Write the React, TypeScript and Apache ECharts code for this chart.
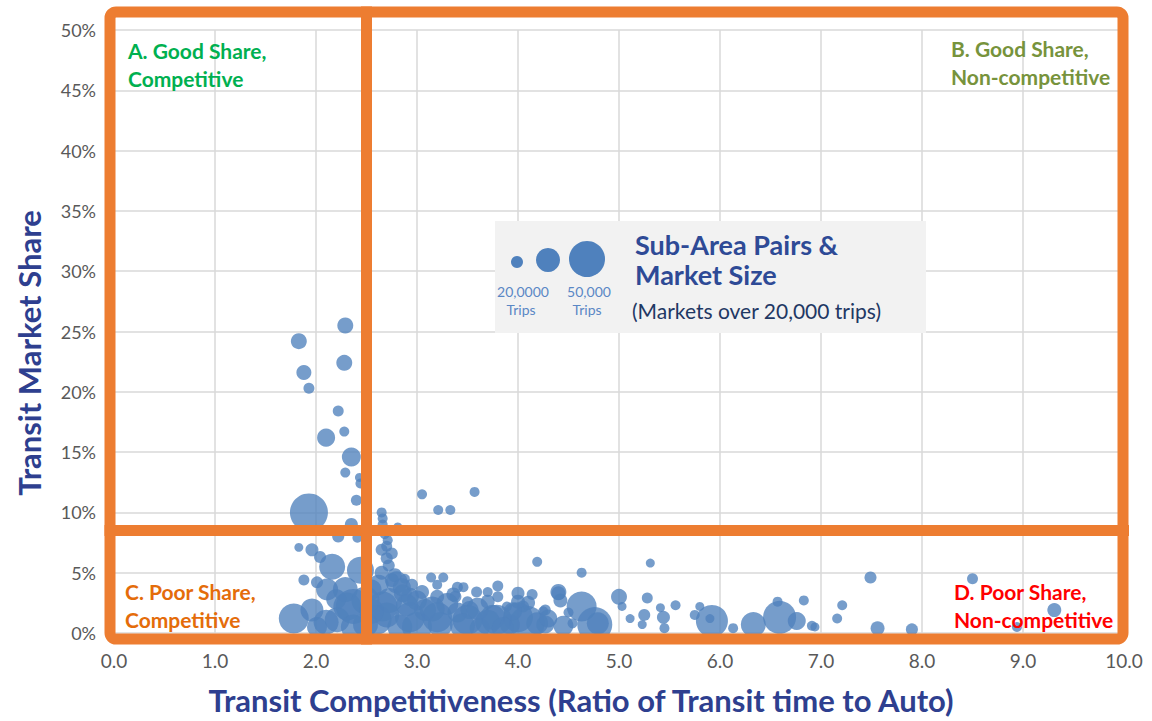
import React, { useEffect, useRef } from "react";
import * as echarts from "echarts";

// Transit competitiveness ratio, transit market share (%), market size (thousand trips)
const ratios: number[] = [
  2.29, 1.83, 2.28, 1.88, 1.93, 2.22, 2.28, 2.10, 2.35, 2.29, 2.43, 2.44, 2.40, 1.93, 2.35, 2.22, 2.41, 1.83, 1.96, 2.04,
  2.16, 2.44, 1.88, 2.01, 1.78, 1.96, 2.11, 2.29, 2.37, 2.21, 2.31, 2.01, 2.37,
  2.65, 2.66, 2.66, 2.81, 3.05, 3.21, 3.33, 3.57, 2.71, 2.65, 2.70, 2.65, 2.80, 2.88, 3.14, 3.26, 3.20, 3.46, 3.59, 3.70,
  3.80, 4.00, 4.14, 4.19, 4.40, 4.42, 4.63, 4.63, 4.76, 4.79, 5.31, 5.00, 5.28, 5.03, 5.56, 5.41, 5.11, 5.25, 5.44, 5.23,
  5.45, 5.80, 5.75, 5.92, 5.90, 6.13, 6.33, 6.59, 6.57, 6.76, 6.83, 6.91, 6.94, 7.21, 7.16, 7.49, 7.56, 7.90, 8.50, 9.31,
  8.94, 4.25, 4.50, 4.54, 4.00, 3.75, 4.19, 4.40, 4.27,
  2.93, 3.20, 3.38, 3.50, 3.80, 3.89, 4.05, 3.79, 3.50, 4.09, 2.86, 3.00, 2.93, 3.36, 3.20, 3.40, 2.66, 2.60, 2.75, 2.73,
  3.23, 3.62, 2.83, 3.52, 3.92, 4.27, 3.08, 2.49, 2.49, 2.55,
  2.68, 2.70, 2.75, 2.72, 2.78, 2.85, 2.62, 2.95,
  3.00, 3.30, 3.60, 3.70, 3.95, 4.10, 2.90, 3.15, 3.45, 2.70, 3.85, 4.30, 4.45, 2.55, 3.05, 3.40, 3.70, 4.00,
  2.10, 2.20,
];
const shares: number[] = [
  25.5, 24.2, 22.4, 21.6, 20.3, 18.4, 16.7, 16.2, 14.6, 13.3, 12.9, 12.4, 11.0, 10.0, 9.0, 8.0, 7.9, 7.1, 6.9, 6.3,
  5.5, 5.2, 4.4, 4.2, 1.2, 1.9, 3.6, 3.6, 2.2, 1.1, 2.2, 0.5, 0.5,
  10.0, 9.5, 9.0, 8.8, 11.5, 10.2, 10.2, 11.7, 7.7, 6.9, 6.2, 5.0, 4.2, 4.5, 4.6, 4.6, 4.0, 3.8, 3.4, 3.4,
  3.9, 3.3, 3.2, 5.9, 3.3, 2.7, 5.0, 2.2, 0.7, 0.8, 5.8, 3.0, 2.9, 2.2, 2.3, 2.1, 1.2, 1.5, 1.3, 0.7,
  0.4, 2.2, 1.5, 1.0, 1.2, 0.4, 0.7, 1.3, 2.6, 1.0, 2.7, 0.6, 0.5, 2.3, 1.2, 4.6, 0.4, 0.3, 4.5, 1.9,
  0.5, 1.8, 1.7, 0.8, 1.3, 1.3, 0.8, 3.4, 1.9,
  3.0, 3.0, 3.0, 2.6, 3.0, 2.2, 2.2, 1.1, 1.1, 0.8, 3.3, 2.7, 1.3, 3.2, 1.3, 1.7, 2.2, 1.1, 4.4, 2.7,
  0.7, 0.4, 0.5, 1.9, 0.7, 0.7, 1.9, 2.7, 0.7, 3.6,
  8.2, 7.2, 6.6, 5.6, 4.8, 3.8, 4.0, 4.0,
  0.5, 2.4, 2.0, 0.9, 1.8, 2.5, 2.3, 2.0, 0.6, 1.5, 0.4, 1.2, 0.6, 1.8, 3.4, 3.8, 2.6, 2.6,
  0.9, 2.8,
];
const tripsK: number[] = [
  51, 51, 51, 45, 24, 24, 20, 65, 72, 20, 16, 20, 24, 289, 34, 29, 20, 16, 34, 29,
  135, 146, 24, 29, 180, 106, 97, 125, 245, 125, 157, 80, 125,
  20, 20, 20, 16, 20, 20, 20, 20, 20, 29, 29, 39, 97, 20, 20, 20, 20, 20, 24, 20,
  24, 34, 24, 20, 39, 39, 20, 180, 245, 97, 16, 51, 24, 16, 20, 16, 16, 29, 34, 16,
  20, 16, 20, 205, 16, 20, 125, 218, 20, 65, 20, 20, 16, 20, 20, 29, 39, 29, 24, 39,
  20, 20, 20, 20, 180, 125, 97, 51, 24,
  65, 39, 29, 24, 24, 20, 29, 180, 180, 245, 65, 80, 180, 39, 180, 80, 180, 180, 39, 125,
  125, 80, 125, 65, 80, 65, 97, 157, 125, 80,
  20, 24, 29, 29, 39, 65, 80, 29,
  180, 97, 97, 125, 65, 39, 97, 125, 125, 125, 97, 65, 80, 125, 39, 24, 39, 39,
  125, 80,
];

const xTicks: string[] = ["0.0", "1.0", "2.0", "3.0", "4.0", "5.0", "6.0", "7.0", "8.0", "9.0", "10.0"];
const xTitle = "Transit Competitiveness (Ratio of Transit time to Auto)";
const yTitle = "Transit Market Share";
const competitiveCut = 2.5; // ratio threshold
const shareCut = 8.5; // % threshold

const quadrantA: string[] = ["A. Good Share,", "Competitive"];
const quadrantB: string[] = ["B. Good Share,", "Non-competitive"];
const quadrantC: string[] = ["C. Poor Share,", "Competitive"];
const quadrantD: string[] = ["D. Poor Share,", "Non-competitive"];
const legendTitle: string[] = ["Sub-Area Pairs &", "Market Size"];
const legendSub = "(Markets over 20,000 trips)";
const legendSizes: string[] = ["20,0000", "50,000"];

const FONT = "Lato, 'Open Sans', sans-serif";
const G = { left: 114, top: 30, width: 1010, height: 603 };
const px = (x: number) => G.left + (x / 10) * G.width;
const py = (y: number) => G.top + ((50 - y) / 50) * G.height;

export default function App() {
  const ref = useRef<HTMLDivElement>(null);
  useEffect(() => {
    if (!ref.current) return;
    const chart = echarts.init(ref.current, undefined, { renderer: "svg" });
    const data = ratios.map((r, i) => [r, shares[i], tripsK[i]]);
    const orange = "#ED7D31";
    const lw = 11;
    const xC = px(competitiveCut);
    const yC = py(shareCut);
    const frameL = G.left - 4;
    const frameR = G.left + G.width - 1;
    const frameT = 12;
    const frameB = G.top + G.height + 6;

    const qText = (lines: string[], x: number, y: number, color: string) => ({
      type: "group",
      z: 60,
      children: lines.map((t, i) => ({
        type: "text",
        z: 60,
        x,
        y: y + i * 28,
        style: {
          text: t,
          fill: color,
          font: `bold 21px ${FONT}`,
          textVerticalAlign: "middle",
        },
      })),
    });

    const option: any = {
      animation: false,
      textStyle: { fontFamily: FONT },
      grid: { left: G.left, top: G.top, width: G.width, height: G.height, containLabel: false },
      xAxis: {
        type: "value",
        min: 0,
        max: 10,
        interval: 1,
        axisLine: { show: false },
        axisTick: { show: false },
        axisLabel: {
          color: "#595959",
          fontSize: 19,
          margin: 18,
          formatter: (v: number) => xTicks[Math.round(v)] ?? "",
        },
        splitLine: { show: true, lineStyle: { color: "#D9D9D9", width: 1.5 } },
      },
      yAxis: {
        type: "value",
        min: 0,
        max: 50,
        interval: 5,
        axisLine: { show: false },
        axisTick: { show: false },
        axisLabel: { color: "#595959", fontSize: 18, margin: 18, formatter: "{value}%" },
        splitLine: { show: true, lineStyle: { color: "#D9D9D9", width: 1.5 } },
      },
      series: [
        {
          type: "scatter",
          data,
          symbolSize: (v: number[]) => 2.236 * Math.sqrt(v[2]),
          itemStyle: { color: "#4F81BD", opacity: 0.78 },
          z: 2,
        },
      ],
      graphic: [
        // axis titles
        {
          type: "text", z: 30, x: 581, y: 700,
          style: { text: xTitle, fill: "#2E3F8F", font: `bold 31px ${FONT}`, textAlign: "center", textVerticalAlign: "middle" },
        },
        {
          type: "text", z: 30, x: 29, y: 353, rotation: Math.PI / 2,
          style: { text: yTitle, fill: "#2E3F8F", font: `bold 31px ${FONT}`, textAlign: "center", textVerticalAlign: "middle" },
        },
        // legend box
        {
          type: "rect",
          z: 40,
          shape: { x: 495, y: 221, width: 431, height: 112 },
          style: { fill: "#F2F2F2" },
        },
        { type: "circle", z: 41, shape: { cx: 517, cy: 262, r: 6 }, style: { fill: "#4F81BD" } },
        { type: "circle", z: 41, shape: { cx: 548, cy: 260, r: 12 }, style: { fill: "#4F81BD" } },
        { type: "circle", z: 41, shape: { cx: 587, cy: 259, r: 18 }, style: { fill: "#4F81BD" } },
        {
          type: "text", z: 41, x: 523, y: 291,
          style: { text: legendSizes[0], fill: "#5A87C5", font: `14px ${FONT}`, textAlign: "center", textVerticalAlign: "middle" },
        },
        {
          type: "text", z: 41, x: 521, y: 309,
          style: { text: "Trips", fill: "#5A87C5", font: `14px ${FONT}`, textAlign: "center", textVerticalAlign: "middle" },
        },
        {
          type: "text", z: 41, x: 589, y: 291,
          style: { text: legendSizes[1], fill: "#5A87C5", font: `14px ${FONT}`, textAlign: "center", textVerticalAlign: "middle" },
        },
        {
          type: "text", z: 41, x: 587, y: 309,
          style: { text: "Trips", fill: "#5A87C5", font: `14px ${FONT}`, textAlign: "center", textVerticalAlign: "middle" },
        },
        {
          type: "text", z: 41, x: 635, y: 244,
          style: { text: legendTitle[0], fill: "#2E4A96", font: `bold 27px ${FONT}`, textVerticalAlign: "middle" },
        },
        {
          type: "text", z: 41, x: 635, y: 274,
          style: { text: legendTitle[1], fill: "#2E4A96", font: `bold 27px ${FONT}`, textVerticalAlign: "middle" },
        },
        {
          type: "text", z: 41, x: 632, y: 310,
          style: { text: legendSub, fill: "#1F3864", font: `21px ${FONT}`, textVerticalAlign: "middle" },
        },
        // orange quadrant frame
        {
          type: "rect",
          z: 50,
          shape: { x: frameL, y: frameT, width: frameR - frameL, height: frameB - frameT, r: 6 },
          style: { fill: "none", stroke: orange, lineWidth: lw },
        },
        {
          type: "line",
          z: 50,
          shape: { x1: xC, y1: frameT - lw / 2, x2: xC, y2: frameB + lw / 2 },
          style: { stroke: orange, lineWidth: lw },
        },
        {
          type: "line",
          z: 50,
          shape: { x1: frameL - lw / 2, y1: yC, x2: frameR + 6, y2: yC },
          style: { stroke: orange, lineWidth: lw },
        },
        qText(quadrantA, 128, 50, "#00B050"),
        qText(quadrantB, 951, 48, "#77933C"),
        qText(quadrantC, 125, 591, "#E46C0A"),
        qText(quadrantD, 954, 591, "#FF0000"),
      ],
    };
    chart.setOption(option);
    return () => chart.dispose();
  }, []);
  return (
    <div
      ref={ref}
      style={{ position: "fixed", left: 0, top: 0, width: 1152, height: 721, background: "#ffffff" }}
    />
  );
}
